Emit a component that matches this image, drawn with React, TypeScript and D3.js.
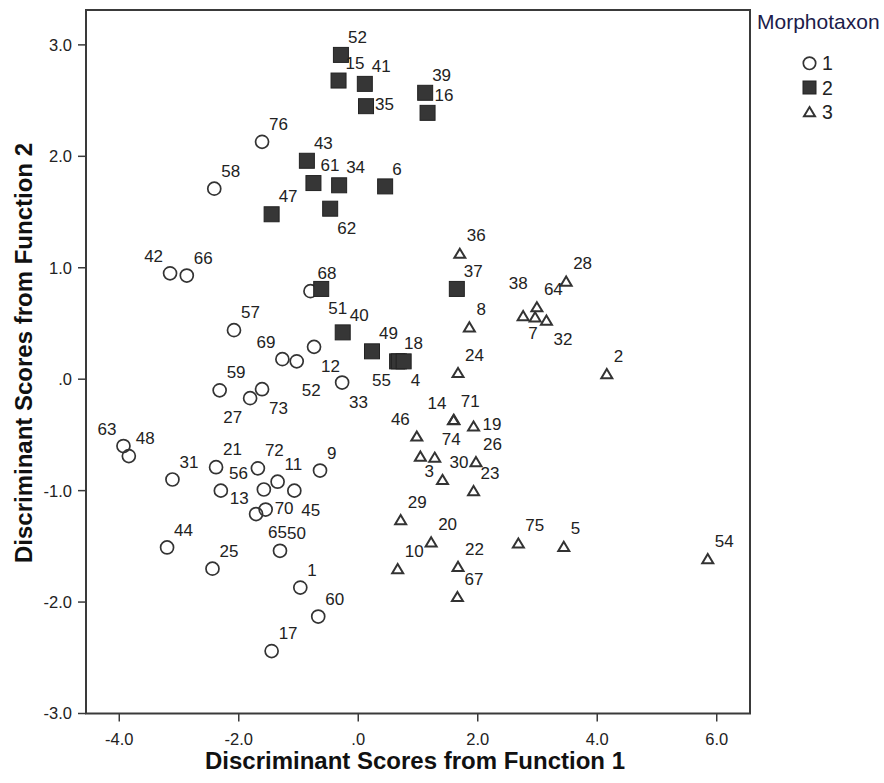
import React from "react";
import * as d3 from "d3";

// [case label, Function 1 score, Function 2 score]
const morphotaxon1: [string, number, number][] = [
  ["76", -1.61, 2.13], ["58", -2.41, 1.71], ["42", -3.15, 0.95], ["66", -2.87, 0.93],
  ["68", -0.8, 0.79], ["57", -2.08, 0.44], ["12", -0.74, 0.29], ["69", -1.27, 0.18],
  ["52", -1.03, 0.16], ["33", -0.27, -0.03], ["59", -2.32, -0.1], ["27", -1.81, -0.17],
  ["73", -1.61, -0.09], ["63", -3.93, -0.6], ["48", -3.84, -0.69], ["31", -3.11, -0.9],
  ["21", -2.38, -0.79], ["72", -1.68, -0.8], ["9", -0.64, -0.82], ["13", -2.3, -1.0],
  ["56", -1.58, -0.99], ["11", -1.35, -0.92], ["45", -1.07, -1.0], ["65", -1.71, -1.21],
  ["70", -1.55, -1.17], ["50", -1.31, -1.54], ["44", -3.2, -1.51], ["25", -2.44, -1.7],
  ["1", -0.97, -1.87], ["60", -0.67, -2.13], ["17", -1.45, -2.44],
];

const morphotaxon2: [string, number, number][] = [
  ["52", -0.29, 2.91], ["15", -0.33, 2.68], ["41", 0.11, 2.65], ["35", 0.13, 2.45],
  ["39", 1.12, 2.57], ["16", 1.16, 2.39], ["43", -0.86, 1.96], ["61", -0.75, 1.76],
  ["34", -0.32, 1.74], ["6", 0.45, 1.73], ["62", -0.47, 1.53], ["47", -1.45, 1.48],
  ["51", -0.62, 0.81], ["40", -0.26, 0.42], ["49", 0.23, 0.25], ["18", 0.65, 0.16],
  ["55", 0.68, 0.16], ["4", 0.76, 0.16], ["37", 1.65, 0.81],
];

const morphotaxon3: [string, number, number][] = [
  ["36", 1.7, 1.13], ["38", 2.76, 0.57], ["64", 2.99, 0.65], ["7", 2.96, 0.56],
  ["32", 3.15, 0.53], ["28", 3.48, 0.88], ["8", 1.86, 0.47], ["24", 1.67, 0.06],
  ["2", 4.16, 0.05], ["71", 1.6, -0.36], ["14", 1.594, -0.364], ["19", 1.93, -0.42],
  ["46", 0.98, -0.51], ["3", 1.04, -0.69], ["74", 1.28, -0.7], ["26", 1.97, -0.74],
  ["30", 1.41, -0.9], ["23", 1.93, -1.0], ["29", 0.71, -1.26], ["20", 1.22, -1.46],
  ["10", 0.66, -1.7], ["22", 1.67, -1.68], ["67", 1.66, -1.95], ["75", 2.68, -1.47],
  ["5", 3.44, -1.5], ["54", 5.85, -1.61],
];

const groupNames = ["1", "2", "3"];
const xTicks = [-4, -2, 0, 2, 4, 6];
const xTickLabels = ["-4.0", "-2.0", ".0", "2.0", "4.0", "6.0"];
const yTicks = [-3, -2, -1, 0, 1, 2, 3];
const yTickLabels = ["-3.0", "-2.0", "-1.0", ".0", "1.0", "2.0", "3.0"];

// label placement side relative to the marker (default NE)
const labelSide: Record<string, string> = {
  "1-42": "NW", "1-12": "SE", "1-69": "NW", "1-52": "SSE", "1-33": "SE", "1-27": "SW",
  "1-73": "SE", "1-63": "NW", "1-13": "ESE", "1-56": "NW2", "1-45": "SE", "1-65": "SE2",
  "1-70": "E",
  "2-35": "E", "2-62": "SE", "2-51": "SE", "2-55": "SW", "2-4": "SE",
  "3-38": "N2", "3-7": "S", "3-32": "SE", "3-14": "NW", "3-19": "E", "3-46": "NW", "3-3": "SE3",
};

const sideOffsets: Record<string, [number, number, string]> = {
  NE: [7, -18, "start"],
  E: [9, -2, "start"],
  ESE: [9, 7, "start"],
  SE: [7, 19, "start"],
  SE2: [12, 18, "start"],
  SE3: [4, 15, "start"],
  SSE: [5, 29, "start"],
  S: [-2, 16, "middle"],
  SW: [-8, 19, "end"],
  NW: [-7, -17, "end"],
  NW2: [-16, -17, "end"],
  N2: [-5, -33, "middle"],
};

const W = 884;
const H = 783;
const plot = { left: 86, right: 750, top: 10, bottom: 713.5 };
const ink = "#333333";
const FONT = "'Liberation Sans', Arial, sans-serif";

function Marker({ g, x, y, legend = false }: { g: number; x: number; y: number; legend?: boolean }) {
  if (g === 0) {
    return <circle cx={x} cy={y} r={legend ? 6.2 : 6.5} fill="none" stroke={ink} strokeWidth={1.7} />;
  }
  if (g === 1) {
    const s = legend ? 13 : 15;
    return (
      <rect x={x - s / 2} y={y - s / 2} width={s} height={s} fill="#363636" stroke="#222" strokeWidth={1} />
    );
  }
  const hw = 5.5;
  const hh = 4.6;
  const p = d3.path();
  p.moveTo(x, y - hh);
  p.lineTo(x + hw, y + hh);
  p.lineTo(x - hw, y + hh);
  p.closePath();
  return <path d={p.toString()} fill="none" stroke={ink} strokeWidth={2} strokeLinejoin="miter" />;
}

export default function App() {
  const xs = d3.scaleLinear().domain([-4.557, 6.557]).range([plot.left, plot.right]);
  const ys = d3.scaleLinear().domain([-3, 3.313]).range([plot.bottom, plot.top]);

  const groups = [morphotaxon1, morphotaxon2, morphotaxon3];

  return (
    <svg
      width={W}
      height={H}
      style={{ position: "absolute", left: 0, top: 0, background: "#fff" }}
      fontFamily={FONT}
    >
      <rect x={0} y={0} width={W} height={H} fill="#fff" />
      {/* frame */}
      <rect
        x={plot.left}
        y={plot.top}
        width={plot.right - plot.left}
        height={plot.bottom - plot.top}
        fill="none"
        stroke="#3a3a3a"
        strokeWidth={2}
      />
      {/* x ticks */}
      {xTicks.map((t, i) => (
        <g key={"xt" + t}>
          <line x1={xs(t)} x2={xs(t)} y1={plot.bottom} y2={plot.bottom + 8} stroke="#3a3a3a" strokeWidth={1.5} />
          <text x={xs(t)} y={745} textAnchor="middle" fontSize={16.5} fill="#222">
            {xTickLabels[i]}
          </text>
        </g>
      ))}
      {/* y ticks */}
      {yTicks.map((t, i) => (
        <g key={"yt" + t}>
          <line x1={plot.left - 8} x2={plot.left} y1={ys(t)} y2={ys(t)} stroke="#3a3a3a" strokeWidth={1.5} />
          <text x={72} y={ys(t)} dy="0.36em" textAnchor="end" fontSize={16.5} fill="#222">
            {yTickLabels[i]}
          </text>
        </g>
      ))}
      {/* axis titles */}
      <text
        x={415}
        y={769.3}
        textAnchor="middle"
        fontSize={23}
        fontWeight="bold"
        fill="#111"
        textLength={420}
        lengthAdjust="spacingAndGlyphs"
      >
        Discriminant Scores from Function 1
      </text>
      <text
        transform="translate(31.5,353) rotate(-90)"
        textAnchor="middle"
        fontSize={23}
        fontWeight="bold"
        fill="#111"
        textLength={420}
        lengthAdjust="spacingAndGlyphs"
      >
        Discriminant Scores from Function 2
      </text>

      {/* points */}
      {groups.map((data, g) => (
        <g key={"g" + g}>
          {data.map(([id, vx, vy], i) => (
            <Marker key={i} g={g} x={xs(vx)} y={ys(vy)} />
          ))}
        </g>
      ))}
      {/* labels */}
      {groups.map((data, g) => (
        <g key={"l" + g}>
          {data.map(([id, vx, vy], i) => {
            const side = labelSide[`${g + 1}-${id}`] || "NE";
            const [dx, dy, anchor] = sideOffsets[side];
            return (
              <text
                key={i}
                x={xs(vx) + dx}
                y={ys(vy) + dy}
                dy="0.36em"
                textAnchor={anchor}
                fontSize={17}
                fill="#222"
              >
                {id}
              </text>
            );
          })}
        </g>
      ))}

      {/* legend */}
      <text x={757} y={29.3} fontSize={21} fill="#1c1c4a">
        Morphotaxon
      </text>
      {groupNames.map((name, i) => {
        const cy = 63.3 + i * 24.2;
        return (
          <g key={"lg" + name}>
            <Marker g={i} x={809.5} y={cy} legend />
            <text x={822} y={cy} dy="0.36em" fontSize={19.5} fill="#222">
              {name}
            </text>
          </g>
        );
      })}
    </svg>
  );
}
